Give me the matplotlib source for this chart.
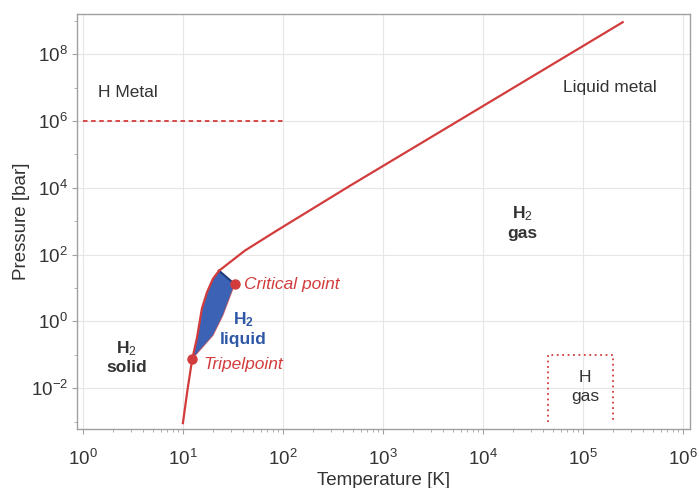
import matplotlib
matplotlib.use("Agg")
import matplotlib.pyplot as plt
from matplotlib.ticker import FixedLocator, NullFormatter, LogFormatterSciNotation

plt.rcParams['font.family'] = ['Liberation Sans', 'DejaVu Sans']
plt.rcParams['mathtext.fontset'] = 'custom'
plt.rcParams['mathtext.rm'] = 'Liberation Sans'
plt.rcParams['mathtext.it'] = 'Liberation Sans:italic'
plt.rcParams['mathtext.bf'] = 'Liberation Sans:bold'

# --- data (temperature in K, pressure in bar) ---
sub_T = [10.0, 11.1, 12.4]
sub_P = [9e-4, 8.7e-3, 0.075]
melt_T = [12.4, 13.8, 15.5, 17.4, 20.0, 23.0]
melt_P = [0.075, 0.31, 2.45, 7.4, 19.0, 33.0]
main_T = [23.0, 41.7, 87.0, 468.0, 4680.0, 2.5e5]
main_P = [33.0, 132.0, 525.0, 1.15e4, 7.15e5, 9.1e8]
vap_T = [33.0, 25.1, 20.0, 12.4]
vap_P = [13.0, 1.5, 0.38, 0.075]
triple = (12.4, 0.075)
critical = (33.0, 13.0)
metal_T = [1.0, 100.0]
metal_P = [1e6, 1e6]
hgas_T = [4.5e4, 4.5e4, 2.0e5, 2.0e5]
hgas_P = [1e-3, 0.1, 0.1, 1e-3]
x_major = [1e0, 1e1, 1e2, 1e3, 1e4, 1e5, 1e6]
y_major = [1e-2, 1e0, 1e2, 1e4, 1e6, 1e8]
y_minor = [1e-3, 1e-1, 1e1, 1e3, 1e5, 1e7, 1e9]

red = '#d23c3c'
blue = '#3b62b5'
grey = '#333333'

fig = plt.figure(figsize=(6.99, 4.88), dpi=100)
ax = fig.add_axes([0.110, 0.121, 0.877, 0.850])
ax.set_xscale('log')
ax.set_yscale('log')
ax.set_xlim(10**-0.06, 10**6.07)
ax.set_ylim(10**-3.22, 10**9.2)

# liquid region
fill_T = melt_T + [critical[0]] + vap_T[1:]
fill_P = melt_P + [critical[1]] + vap_P[1:]
ax.fill(fill_T, fill_P, color=blue, zorder=2, lw=0)
ax.plot(vap_T, vap_P, color=red, lw=0.8, alpha=0.6, zorder=3)
ax.plot([melt_T[-1], critical[0]], [melt_P[-1], critical[1]], color='#1f3c78', lw=1.5, zorder=3)

# phase lines
ax.plot(sub_T, sub_P, color=red, lw=1.6, zorder=4)
ax.plot(melt_T, melt_P, color=red, lw=1.6, zorder=4)
ax.plot(main_T, main_P, color=red, lw=1.6, zorder=4)
ax.plot(metal_T, metal_P, color=red, lw=1.3, ls=(0, (2.5, 2.0)), zorder=4)
ax.plot(hgas_T, hgas_P, color=red, lw=1.3, ls=(0, (1.0, 2.0)), zorder=4)

ax.plot(*triple, 'o', color=red, ms=6.5, zorder=5)
ax.plot(*critical, 'o', color=red, ms=6.5, zorder=5)

# text
fs = 12.5
ax.text(1.4, 7e6, 'H Metal', fontsize=fs, color=grey, ha='left', va='center')
ax.text(1.86e5, 9.8e6, 'Liquid metal', fontsize=fs, color=grey, ha='center', va='center')
ax.text(2.5e4, 9e2, 'H$_2$\ngas', fontsize=fs, color=grey, ha='center', va='center',
        fontweight='bold', linespacing=1.2)
ax.text(2.75, 0.085, 'H$_2$\nsolid', fontsize=fs, color=grey, ha='center', va='center',
        fontweight='bold', linespacing=1.2)
ax.text(40, 0.6, r'H$_\mathbf{2}$' + '\nliquid', fontsize=fs, color='#2e58a6', ha='center',
        va='center', fontweight='bold', linespacing=1.2)
ax.text(41, 13.0, 'Critical point', fontsize=fs, color=red, ha='left', va='center',
        style='italic')
ax.text(16.2, 0.05, 'Tripelpoint', fontsize=fs, color=red, ha='left', va='center',
        style='italic')
ax.text(1.05e5, 0.011, 'H\ngas', fontsize=fs, color=grey, ha='center', va='center',
        linespacing=1.3)

# axes styling
x_minor = [m * d for d in x_major[:-1] for m in range(2, 10)]
ax.xaxis.set_major_locator(FixedLocator(x_major))
ax.xaxis.set_major_formatter(LogFormatterSciNotation())
ax.xaxis.set_minor_locator(FixedLocator(x_minor))
ax.xaxis.set_minor_formatter(NullFormatter())
ax.yaxis.set_major_locator(FixedLocator(y_major))
ax.yaxis.set_major_formatter(LogFormatterSciNotation())
ax.yaxis.set_minor_locator(FixedLocator(y_minor))
ax.yaxis.set_minor_formatter(NullFormatter())
ax.grid(True, which='major', color='#e6e6e6', lw=0.8, zorder=0)
ax.set_axisbelow(True)
for s in ax.spines.values():
    s.set_color('#a0a0a0')
    s.set_linewidth(1.0)
ax.tick_params(which='both', direction='out', colors='#a0a0a0', labelcolor='#333333',
               labelsize=13.5)
ax.tick_params(which='major', length=3.5)
ax.tick_params(which='minor', length=2)
ax.tick_params(axis='x', which='major', pad=11)
ax.tick_params(axis='y', which='major', pad=3)

ax.set_xlabel('Temperature [K]', fontsize=13.5, color='#333333', labelpad=2)
ax.set_ylabel('Pressure [bar]', fontsize=13.5, color='#333333', labelpad=0.5)

fig.savefig('out.png', dpi=100)
